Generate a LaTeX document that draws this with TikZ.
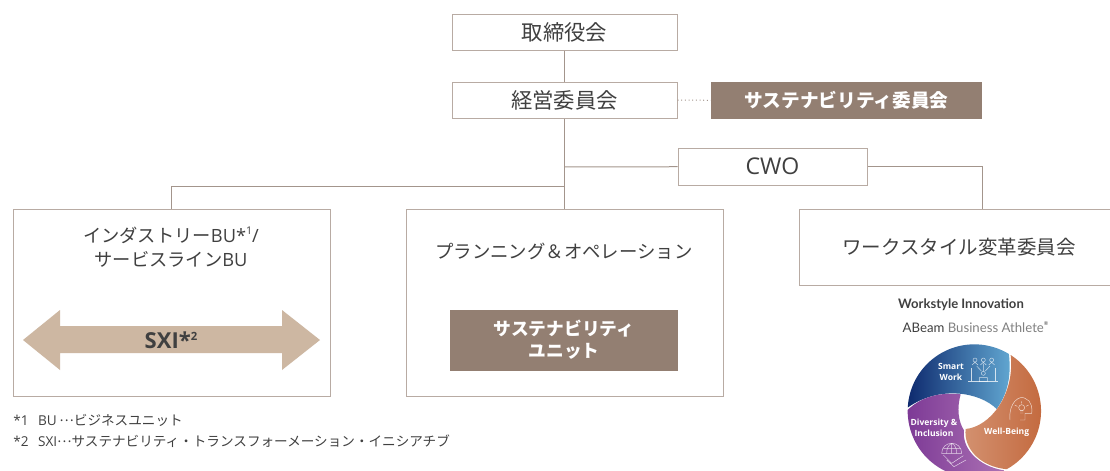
\documentclass[tikz,border=0pt]{standalone}
\usepackage{fontspec}
\setmainfont{Open Sans}
\newfontfamily\jp{Noto Sans CJK JP}
\newfontfamily\lato{Lato}
\definecolor{edgec}{HTML}{B8ABA3}
\definecolor{linec}{HTML}{A3958C}
\definecolor{brownc}{HTML}{937F72}
\definecolor{sandc}{HTML}{CDB7A2}
\definecolor{textc}{HTML}{404040}
\definecolor{blueac}{HTML}{0E2A6E}
\definecolor{bluebc}{HTML}{2A5C9C}
\definecolor{bluecc}{HTML}{62A8D2}
\definecolor{orangeac}{HTML}{D39170}
\definecolor{orangebc}{HTML}{C2663A}
\definecolor{purpleac}{HTML}{7D3A96}
\definecolor{purplebc}{HTML}{AC72B4}
\tikzset{
  orgbox/.style={draw=edgec, line width=.75pt, fill=white, text=textc, align=center, inner sep=0pt, font=\fontsize{16}{22}\selectfont},
  brownbox/.style={fill=brownc, text=white, align=center, inner sep=0pt},
  orgline/.style={draw=linec, line width=.75pt},
  wheeltext/.style={text=white, align=center, inner sep=0pt, font=\fontsize{6.4}{8}\selectfont\bfseries},
  iconline/.style={draw=white, line width=.35pt, opacity=.75}
}
\begin{document}
\begin{tikzpicture}[x=.75pt,y=-.75pt]
\useasboundingbox (0,0) rectangle (1110,471);
\node[orgbox, minimum width=168.75pt, minimum height=27pt] (bid0) at (564.5,32){\jp 取締役会};
\node[orgbox, minimum width=168.75pt, minimum height=27pt] (bid1) at (564.5,100){\jp 経営委員会};
\node[brownbox, minimum width=203.25pt, minimum height=27.75pt, font=\fontsize{14}{18}\selectfont\bfseries] (bid2) at (846.5,100.5){\jp サステナビリティ委員会};
\node[orgbox, minimum width=141.75pt, minimum height=27.75pt, font=\fontsize{17.3}{22}\selectfont] (bid3) at (772.5,166.5){CWO};
\node[orgbox, minimum width=237.75pt, minimum height=140.25pt] (bid4) at (171.5,302.5){};
\node[orgbox, minimum width=237.75pt, minimum height=140.25pt] (bid5) at (564.5,302.5){};
\node[orgbox, minimum width=240pt, minimum height=57pt, font=\fontsize{14.6}{20}\selectfont] (bid6) at (959,247){\jp ワークスタイル変革委員会};
\node[brownbox, minimum width=171pt, minimum height=45.75pt, font=\fontsize{13.3}{16.5}\selectfont\bfseries] (bid7) at (564,340){\jp サステナビリティ\\\jp ユニット};
\node[text=textc, align=center, inner sep=0pt, font=\fontsize{13.7}{18}\selectfont] (tid0) at (171,247){\jp インダストリー\fontspec{Open Sans}BU*\raisebox{.45em}{\fontsize{8}{8}\selectfont 1}/\\\jp サービスライン\fontspec{Open Sans}BU};
\node[text=textc, inner sep=0pt, font=\fontsize{13.8}{20}\selectfont] (tid1) at (564,251){\jp プランニング＆オペレーション};
\coordinate (cid0) at (564,167);
\coordinate (cid1) at (564,186);
\coordinate (cid2) at (982,209);
\coordinate (cid3) at (171,209);
\draw[orgline] (bid0) -- (bid1);
\draw[orgline] (bid1) -- (bid5.north -| bid1);
\draw[orgline, dotted] (bid1) -- (bid2);
\draw[orgline] (cid0) -- (bid3);
\draw[orgline] (bid3) -| (cid2);
\draw[orgline] (cid1) -| (cid3);
\fill[sandc] (23,340) -- (60,310) -- (60,326) -- (282,326) -- (282,310) -- (320,340) -- (282,370) -- (282,353) -- (60,353) -- (60,370) -- cycle;
\node[text=textc, inner sep=0pt, font=\fontsize{16.5}{18}\selectfont\bfseries] (tid2) at (171,340){SXI*\raisebox{.35em}{\fontsize{8.5}{9}\selectfont 2}};
\node[anchor=west, text=textc, inner sep=0pt, font=\fontsize{10.2}{14}\selectfont] (tid3) at (13,420){*1\hspace{.7em}BU\hspace{.2em}\raisebox{.3em}{\jp …}{\jp ビジネスユニット}};
\node[anchor=west, text=textc, inner sep=0pt, font=\fontsize{10.2}{14}\selectfont] (tid4) at (13,441){*2\hspace{.7em}SXI\raisebox{.3em}{\jp …}{\jp サステナビリティ・トランスフォーメーション・イニシアチブ}};
\node[text=textc, inner sep=0pt, font=\lato\fontsize{9.8}{13}\selectfont\bfseries] (tid5) at (961,305){Workstyle Innovation};
\node[text=textc, inner sep=0pt, font=\lato\fontsize{9.9}{12}\selectfont] (tid6) at (975.5,327){ABeam {\color{gray}Business Athlete}\raisebox{.5em}{\fontsize{4}{4}\selectfont ®}};
\begin{scope}[shift={(880,285)},x=.25pt,y=-.25pt]
\path[left color=blueac, middle color=bluebc, right color=bluecc] (83.3,367.5) arc[start angle=183, end angle=301.2, radius=200] .. controls (395,280) and (380,330) .. (350,372) .. controls (300,322) and (180,300) .. cycle;
\path[left color=orangeac, right color=orangebc] (392,210) arc[start angle=303, end angle=421, radius=200] .. controls (300,545) and (250,490) .. (257,432) .. controls (330,425) and (405,330) .. cycle;
\path[left color=purpleac, right color=purplebc] (373.8,556.2) arc[start angle=63, end angle=181, radius=200] .. controls (130,330) and (190,322) .. (242,328) .. controls (230,370) and (235,410) .. (252,436) .. controls (245,490) and (295,545) .. cycle;
\node[wheeltext] (tid7) at (213,260){Smart\\Work};
\node[wheeltext] (tid8) at (380,441){Well-Being};
\node[wheeltext] (tid9) at (162,428){Diversity \&\\Inclusion};
\draw[iconline] (275,250) -- (275,290) (345,250) -- (345,290) (265,290) -- (355,290);
\draw[iconline] (298,278) rectangle (322,290) (310,265) circle[radius=6];
\foreach \hx in {285,310,335}{
\draw[iconline] (\hx,225) circle[radius=6] (\hx-9,240) -- (\hx,232) -- (\hx+9,240);
}
\draw[iconline] (290,243) -- (304,258) (310,236) -- (310,258) (330,243) -- (316,258);
\draw[iconline] (390,405) .. controls (385,350) and (420,330) .. (435,340) .. controls (455,345) and (458,375) .. (455,385) -- (435,385) -- (435,405) -- (420,405);
\draw[iconline] (425,368) circle[radius=9] (420,378) -- (430,378) (420,384) -- (430,384);
\draw[iconline] (404,360) -- (412,364) (425,349) -- (425,355) (446,360) -- (438,364);
\draw[iconline] (185,505) .. controls (185,465) and (245,465) .. (245,505) -- cycle;
\draw[iconline] (215,475) -- (215,505) (190,490) -- (240,490) (200,505) .. controls (200,490) and (205,480) .. (215,475) .. controls (225,480) and (230,490) .. (230,505);
\draw[iconline] (190,510) -- (215,535) -- (250,512) (200,525) -- (222,545) -- (258,525);
\end{scope}
\end{tikzpicture}
\end{document}
